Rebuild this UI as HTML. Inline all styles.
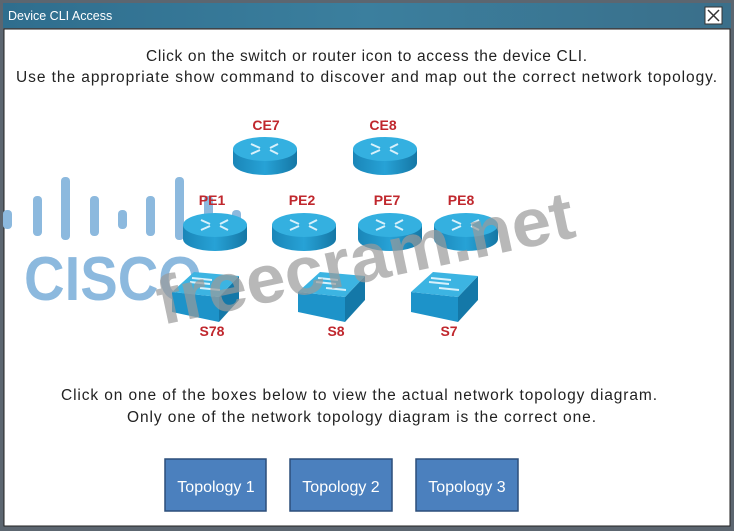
<!DOCTYPE html>
<html><head><meta charset="utf-8"><style>
html,body{margin:0;padding:0;background:#fff;}
body{width:734px;height:531px;overflow:hidden;position:relative;font-family:"Liberation Sans",sans-serif;}
</style></head><body>
<svg width="734" height="531" viewBox="0 0 734 531" xmlns="http://www.w3.org/2000/svg" style="position:absolute;left:0;top:0">
<defs>
<linearGradient id="tb" x1="0" x2="1" y1="0" y2="0">
<stop offset="0" stop-color="#2f6e8e"/><stop offset="0.5" stop-color="#3b7f9e"/><stop offset="1" stop-color="#3a6f8a"/>
</linearGradient>
<linearGradient id="rs" x1="0" x2="1"><stop offset="0" stop-color="#1a86b8"/><stop offset="0.5" stop-color="#27a2d6"/><stop offset="1" stop-color="#1577a5"/></linearGradient>
<g id="rt">
<path d="M0,12 L0,26 A32,12 0 0 0 64,26 L64,12 Z" fill="url(#rs)"/>
<ellipse cx="32" cy="12" rx="32" ry="12" fill="#34b0e0"/>
<g stroke="#d8f1fb" stroke-width="2" fill="none">
<path d="M18,7 L27,11 M45,7 L37,11 M18,17 L27,13 M45,17 L37,13"/>
</g>
</g>
<g id="sw">
<polygon points="0,20 47,25 47,50 0,40" fill="#1d93c9"/>
<polygon points="47,25 67,4 67,28 47,50" fill="#1478a8"/>
<polygon points="0,20 22,0 67,4 47,25" fill="#3cb4e2"/>
<g stroke="#d8f1fb" stroke-width="2" fill="none"><path d="M18,10 L38,12 M28,16 L48,18 M20,6 L40,8"/></g>
</g>
</defs>
<rect x="0" y="0" width="734" height="531" fill="#5c6670"/>
<rect x="3" y="3" width="728" height="25" fill="url(#tb)"/>
<text x="8" y="20" font-size="12.5" fill="#fff" font-family="Liberation Sans, sans-serif">Device CLI Access</text>
<rect x="705" y="7" width="17" height="17" fill="#fff" stroke="#333"/>
<path d="M708,10 L719,21 M719,10 L708,21" stroke="#333" stroke-width="1.5"/>
<rect x="4" y="29" width="726" height="497" fill="#fff" stroke="#222" stroke-width="1"/>
<g fill="#8cb9de">
<rect x="3" y="210" width="9" height="19" rx="4"/>
<rect x="33" y="196" width="9" height="40" rx="4"/>
<rect x="61" y="177" width="9" height="63" rx="4"/>
<rect x="90" y="196" width="9" height="40" rx="4"/>
<rect x="118" y="210" width="9" height="19" rx="4"/>
<rect x="146" y="196" width="9" height="40" rx="4"/>
<rect x="175" y="177" width="9" height="63" rx="4"/>
<rect x="204" y="196" width="9" height="40" rx="4"/>
<rect x="232" y="210" width="9" height="19" rx="4"/>
</g>
<text x="24" y="300" font-size="62" font-weight="bold" fill="#8cb9de" font-family="Liberation Sans, sans-serif" textLength="178" lengthAdjust="spacingAndGlyphs">CISCO</text>
<g font-family="Liberation Sans, sans-serif" font-size="15.5" fill="#222">
<text x="146" y="61" textLength="441" lengthAdjust="spacing">Click on the switch or router icon to access the device CLI.</text>
<text x="16" y="82" textLength="701" lengthAdjust="spacing">Use the appropriate show command to discover and map out the correct network topology.</text>
<text x="61" y="400" textLength="596" lengthAdjust="spacing">Click on one of the boxes below to view the actual network topology diagram.</text>
<text x="127" y="422" textLength="469" lengthAdjust="spacing">Only one of the network topology diagram is the correct one.</text>
</g>
<g font-family="Liberation Sans, sans-serif" font-size="14" font-weight="bold" fill="#c0272d" text-anchor="middle">
<text x="266" y="130">CE7</text><text x="383" y="130">CE8</text>
<text x="212" y="205">PE1</text><text x="302" y="205">PE2</text><text x="387" y="205">PE7</text><text x="461" y="205">PE8</text>
<text x="212" y="336">S78</text><text x="336" y="336">S8</text><text x="449" y="336">S7</text>
</g>
<use href="#rt" x="233" y="137"/><use href="#rt" x="353" y="137"/>
<use href="#rt" x="183" y="213"/><use href="#rt" x="272" y="213"/><use href="#rt" x="358" y="213"/><use href="#rt" x="434" y="213"/>
<use href="#sw" x="172" y="272"/><use href="#sw" x="298" y="272"/><use href="#sw" x="411" y="272"/>
<text x="0" y="0" font-size="68" font-weight="bold" fill="#9a9a9a" fill-opacity="0.7" font-family="Liberation Sans, sans-serif" textLength="425" lengthAdjust="spacingAndGlyphs" transform="translate(162,325) rotate(-12)">freecram.net</text>
<g fill="#4b80be" stroke="#2c4e7a" stroke-width="1.5">
<rect x="165" y="459" width="101" height="52"/><rect x="290" y="459" width="102" height="52"/><rect x="416" y="459" width="102" height="52"/>
</g>
<g font-family="Liberation Sans, sans-serif" font-size="16" fill="#fff" text-anchor="middle">
<text x="216" y="492">Topology 1</text><text x="341" y="492">Topology 2</text><text x="467" y="492">Topology 3</text>
</g>
</svg>
</body></html>
